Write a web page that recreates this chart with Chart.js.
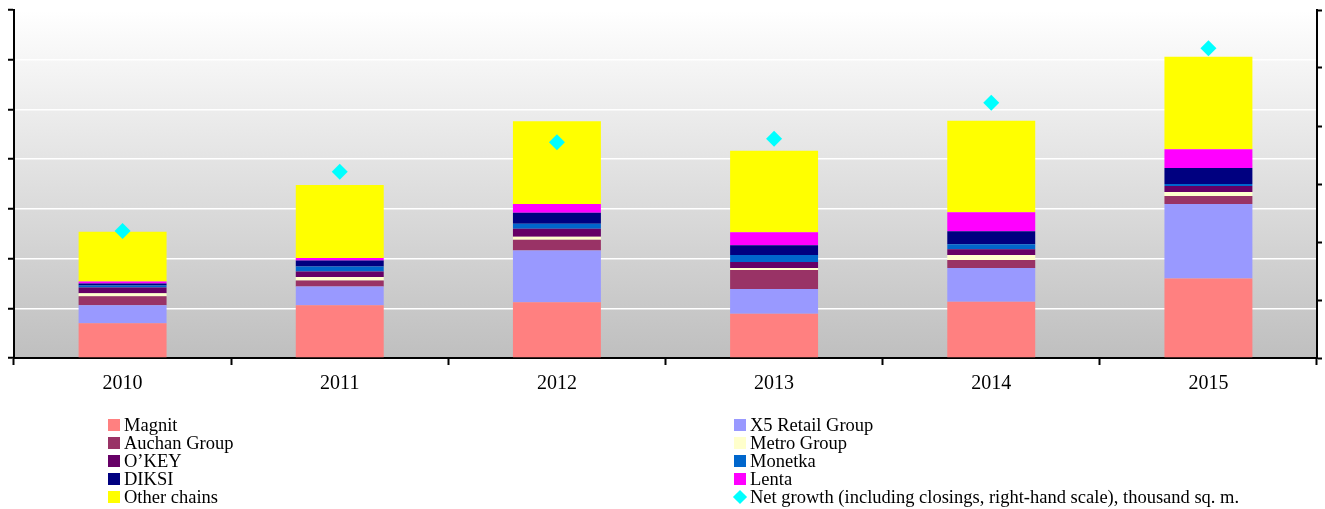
<!DOCTYPE html>
<html lang="en">
<head>
    <meta charset="UTF-8">
    <title>Retail chains space growth</title>
    <script src="https://cdn.jsdelivr.net/npm/chart.js"></script>
    <style>
        body {
            margin: 0;
            background: #fff;
            font-family: 'Liberation Serif', 'Times New Roman', serif;
        }
        #wrap {
            position: relative;
            width: 1325px;
            height: 509px;
            overflow: hidden;
        }
        #chart {
            position: absolute;
            left: 0;
            top: 0;
        }
        #legend {
            position: absolute;
            top: 416px;
            left: 108px;
            display: grid;
            grid-template-columns: 626px 590px;
            grid-auto-rows: 18px;
            font-size: 18.5px;
            line-height: 18px;
            color: #000;
        }
        .item {
            display: flex;
            align-items: center;
            white-space: nowrap;
        }
        .box {
            width: 12px;
            height: 12px;
            margin-right: 4px;
        }
        .diamond {
            width: 10px;
            height: 10px;
            margin: 0 5px 0 1px;
            transform: rotate(45deg);
        }
    </style>
</head>
<body>
<div id="wrap">
    <canvas id="chart" width="1325" height="420"></canvas>
    <div id="legend"></div>
</div>

<script>
    // data (left scale: stacked increase by chain, right scale: net growth)
    const years = ['2010', '2011', '2012', '2013', '2014', '2015'];

    const magnit  = [70, 106, 112, 89, 113, 160];
    const x5      = [36, 38, 104, 50, 68, 150];
    const auchan  = [18, 12, 22, 38, 16, 16];
    const metro   = [6, 7, 6, 4, 10, 8];
    const okey    = [12, 11, 16, 12, 12, 12];
    const monetka = [4, 10, 10, 14, 10, 4];
    const diksi   = [4, 12, 22, 20, 26, 32];
    const lenta   = [4, 5, 18, 26, 38, 38];
    const other   = [100, 147, 166, 164, 184, 186];

    const netGrowth = [219, 321, 372, 378, 440, 534];

    const leftTicks = [0, 100, 200, 300, 400, 500, 600, 700];
    const rightTicks = [0, 100, 200, 300, 400, 500, 600];

    const serif = "'Liberation Serif', 'Times New Roman', serif";

    const bars = [
        { label: 'Magnit', data: magnit, color: '#ff8080' },
        { label: 'X5 Retail Group', data: x5, color: '#9999ff' },
        { label: 'Auchan Group', data: auchan, color: '#993366' },
        { label: 'Metro Group', data: metro, color: '#ffffcc' },
        { label: 'O\u2019KEY', data: okey, color: '#660066' },
        { label: 'Monetka', data: monetka, color: '#0066cc' },
        { label: 'DIKSI', data: diksi, color: '#000080' },
        { label: 'Lenta', data: lenta, color: '#ff00ff' },
        { label: 'Other chains', data: other, color: '#ffff00' }
    ];
    const netLabel = 'Net growth (including closings, right-hand scale), thousand sq. m.';

    const datasets = bars.map(b => ({
        type: 'bar',
        label: b.label,
        data: b.data,
        backgroundColor: b.color,
        borderWidth: 0,
        yAxisID: 'y',
        order: 1,
        barPercentage: 0.405,
        categoryPercentage: 1
    }));
    datasets.push({
        type: 'line',
        label: netLabel,
        data: netGrowth,
        yAxisID: 'y1',
        showLine: false,
        pointStyle: 'rectRot',
        pointRadius: 8,
        pointBackgroundColor: '#00ffff',
        pointBorderColor: '#00ffff',
        pointBorderWidth: 0,
        order: 0
    });

    // gradient behind the plot area
    const plotBackground = {
        id: 'plotBackground',
        beforeDraw(chart) {
            const { ctx, chartArea: a } = chart;
            const g = ctx.createLinearGradient(0, a.top, 0, a.bottom);
            g.addColorStop(0, '#ffffff');
            g.addColorStop(1, '#bfbfbf');
            ctx.save();
            ctx.fillStyle = g;
            ctx.fillRect(a.left, a.top, a.right - a.left, a.bottom - a.top);
            ctx.restore();
        }
    };

    new Chart(document.getElementById('chart'), {
        data: { labels: years, datasets: datasets },
        options: {
            responsive: false,
            animation: false,
            layout: { padding: { left: 8, right: 0, top: 10, bottom: 17 } },
            plugins: {
                legend: { display: false },
                tooltip: { enabled: false }
            },
            scales: {
                x: {
                    stacked: true,
                    grid: {
                        offset: true,
                        drawOnChartArea: false,
                        tickColor: '#000',
                        tickLength: 7,
                        tickWidth: 2
                    },
                    border: { color: '#000', width: 2 },
                    ticks: {
                        color: '#000',
                        padding: 7,
                        font: { family: serif, size: 20 }
                    }
                },
                y: {
                    stacked: true,
                    position: 'left',
                    min: leftTicks[0],
                    max: leftTicks[leftTicks.length - 1],
                    afterBuildTicks: s => { s.ticks = leftTicks.map(v => ({ value: v })); },
                    grid: {
                        color: '#ffffff',
                        lineWidth: 1.5,
                        tickColor: '#000',
                        tickLength: 6,
                        tickWidth: 2
                    },
                    border: { color: '#000', width: 2 },
                    ticks: { display: false }
                },
                y1: {
                    position: 'right',
                    min: rightTicks[0],
                    max: rightTicks[rightTicks.length - 1],
                    afterBuildTicks: s => { s.ticks = rightTicks.map(v => ({ value: v })); },
                    grid: {
                        drawOnChartArea: false,
                        tickColor: '#000',
                        tickLength: 5,
                        tickWidth: 2
                    },
                    border: { color: '#000', width: 2 },
                    ticks: { display: false }
                }
            }
        },
        plugins: [plotBackground]
    });

    // two-column legend, filled row by row
    const legend = document.getElementById('legend');
    const entries = bars.map(b => ({ label: b.label, color: b.color, shape: 'box' }));
    entries.push({ label: netLabel, color: '#00ffff', shape: 'diamond' });
    entries.forEach(e => {
        const item = document.createElement('div');
        item.className = 'item';
        item.innerHTML = `<span class="${e.shape}" style="background:${e.color}"></span><span>${e.label}</span>`;
        legend.appendChild(item);
    });
</script>
</body>
</html>
